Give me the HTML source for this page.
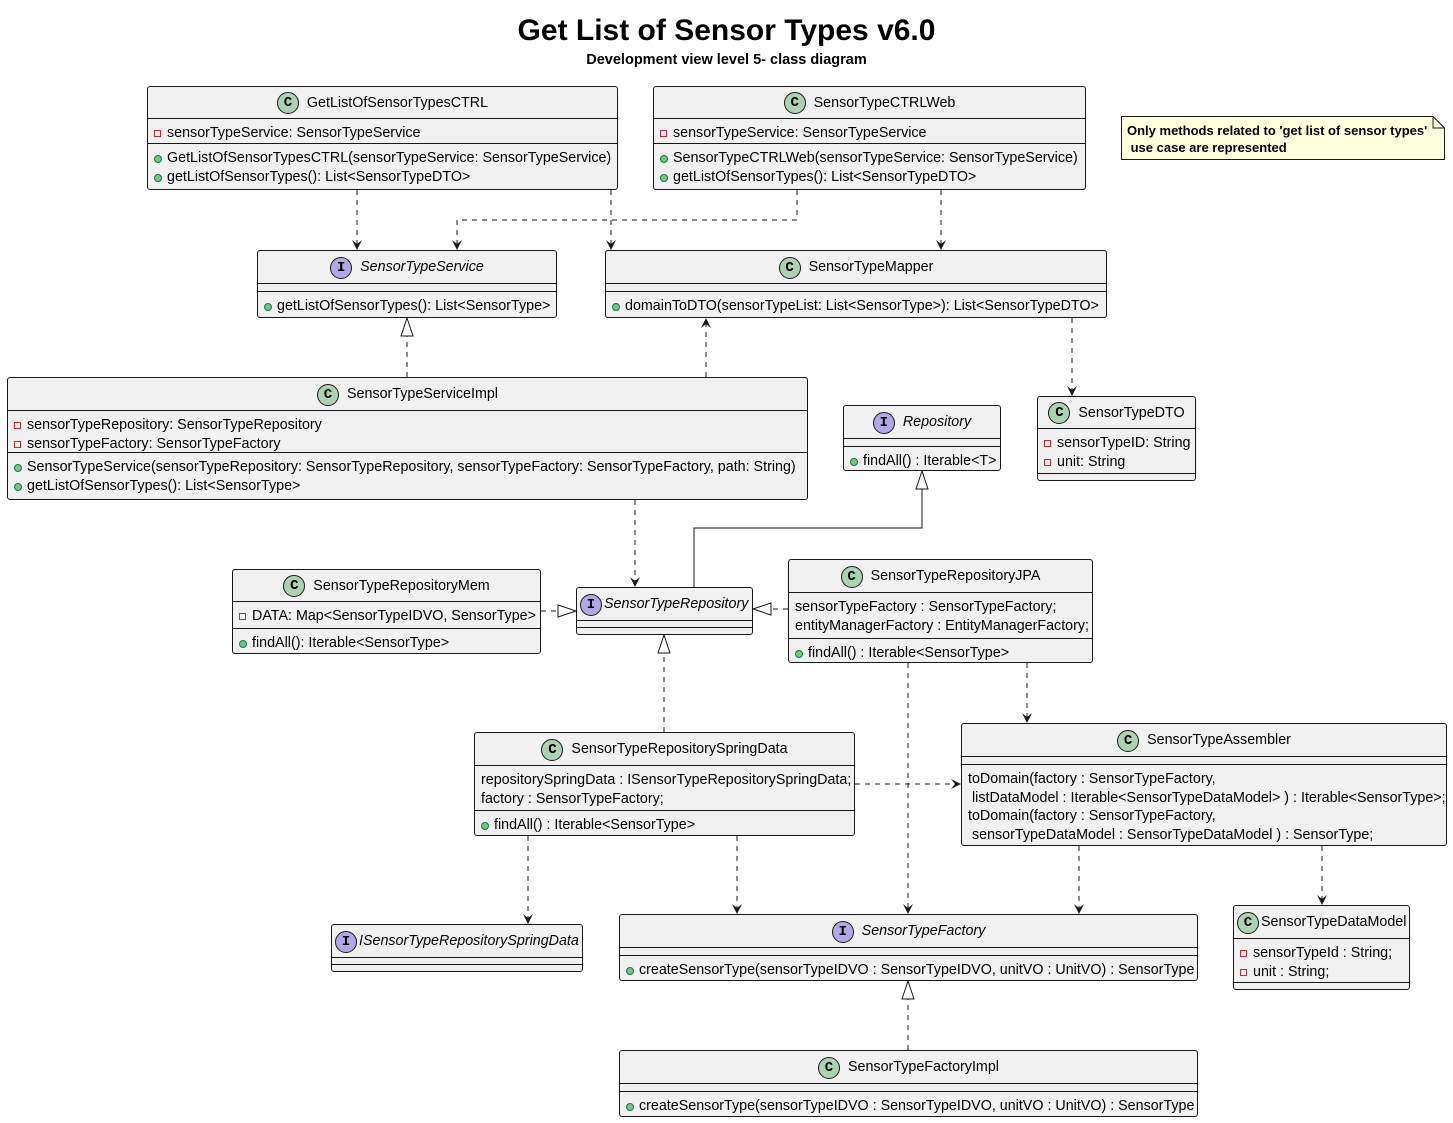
<!DOCTYPE html>
<html><head><meta charset="utf-8">
<style>
html,body{margin:0;padding:0;background:#fff;}
body{width:1453px;height:1123px;position:relative;overflow:hidden;font-family:"Liberation Sans",Arial,sans-serif;color:#000;}
.box{position:absolute;background:#F1F1F1;border:1px solid #181818;border-radius:3px;box-sizing:border-box;}
.hd{position:absolute;left:0;right:0;top:0;text-align:center;font-size:14.3px;white-space:nowrap;}
.hd .ic{display:inline-block;width:22px;height:22px;border-radius:50%;border:1px solid #181818;box-sizing:border-box;text-align:center;line-height:20px;font-weight:bold;font-size:14px;vertical-align:middle;margin-right:8px;font-family:"Liberation Mono",monospace;}
.hd span.n{vertical-align:middle;}
.sep{position:absolute;left:0;right:0;height:0;border-top:1px solid #181818;}
.ln{position:absolute;font-size:14.3px;white-space:pre;line-height:18px;}
.vp{position:absolute;width:7px;height:7px;border:1px solid #C82930;box-sizing:border-box;}
.vu{position:absolute;width:8px;height:8px;border-radius:50%;background:#84BE84;border:1px solid #038048;box-sizing:border-box;}
#title{position:absolute;left:0;width:1453px;top:14px;text-align:center;font-weight:bold;font-size:30px;}
#sub{position:absolute;left:0;width:1453px;top:52px;text-align:center;font-weight:bold;font-size:14.5px;}
#note{position:absolute;left:1121px;top:116px;width:324px;height:44px;}
#note .t{position:absolute;left:6px;top:6px;font-weight:bold;font-size:13px;line-height:17px;white-space:pre;}
svg{position:absolute;left:0;top:0;}
</style></head><body>
<div id="title">Get List of Sensor Types v6.0</div>
<div id="sub">Development view level 5- class diagram</div>
<div id="note"><svg width="326" height="46" style="position:absolute;left:0;top:0"><path d="M0.5 0.5 H312 L323.5 12 V43.5 H0.5 Z" fill="#FEFFDD" stroke="#181818"/><path d="M312 0.5 V12 H323.5" fill="none" stroke="#181818"/></svg><div class="t">Only methods related to 'get list of sensor types'
 use case are represented</div></div>
<svg id="edges" width="1453" height="1123"></svg>
<div id="boxes"></div>
<script>
var B=[
 ['GetListOfSensorTypesCTRL','C',147,86,471,[[118,[['-','sensorTypeService: SensorTypeService']]],[143,[['+','GetListOfSensorTypesCTRL(sensorTypeService: SensorTypeService)'],['+','getListOfSensorTypes(): List<SensorTypeDTO>']]]],190],
 ['SensorTypeCTRLWeb','C',653,86,433,[[118,[['-','sensorTypeService: SensorTypeService']]],[143,[['+','SensorTypeCTRLWeb(sensorTypeService: SensorTypeService)'],['+','getListOfSensorTypes(): List<SensorTypeDTO>']]]],190],
 ['SensorTypeService','I',257,250,300,[[283,[]],[291,[['+','getListOfSensorTypes(): List<SensorType>']]]],318],
 ['SensorTypeMapper','C',605,250,502,[[283,[]],[291,[['+','domainToDTO(sensorTypeList: List<SensorType>): List<SensorTypeDTO>']]]],318],
 ['SensorTypeServiceImpl','C',7,377,801,[[410,[['-','sensorTypeRepository: SensorTypeRepository'],['-','sensorTypeFactory: SensorTypeFactory']]],[452,[['+','SensorTypeService(sensorTypeRepository: SensorTypeRepository, sensorTypeFactory: SensorTypeFactory, path: String)'],['+','getListOfSensorTypes(): List<SensorType>']]]],500],
 ['Repository','I',843,405,158,[[438,[]],[446,[['+','findAll() : Iterable<T>']]]],471],
 ['SensorTypeDTO','C',1037,396,159,[[428,[['-','sensorTypeID: String'],['-','unit: String']]],[473,[]]],481],
 ['SensorTypeRepositoryMem','C',232,569,309,[[601,[['-','DATA: Map<SensorTypeIDVO, SensorType>']]],[628,[['+','findAll(): Iterable<SensorType>']]]],654],
 ['SensorTypeRepository','I',576,587,177,[[620,[]],[627,[]]],635,true],
 ['SensorTypeRepositoryJPA','C',788,559,305,[[592,[['','sensorTypeFactory : SensorTypeFactory;'],['','entityManagerFactory : EntityManagerFactory;']]],[638,[['+','findAll() : Iterable<SensorType>']]]],663],
 ['SensorTypeRepositorySpringData','C',474,732,381,[[765,[['','repositorySpringData : ISensorTypeRepositorySpringData;'],['','factory : SensorTypeFactory;']]],[810,[['+','findAll() : Iterable<SensorType>']]]],836],
 ['SensorTypeAssembler','C',961,723,486,[[756,[]],[764,[['','toDomain(factory : SensorTypeFactory,'],['',' listDataModel : Iterable<SensorTypeDataModel> ) : Iterable<SensorType>;'],['','toDomain(factory : SensorTypeFactory,'],['',' sensorTypeDataModel : SensorTypeDataModel ) : SensorType;']]]],846],
 ['ISensorTypeRepositorySpringData','I',331,924,252,[[957,[]],[964,[]]],972,true],
 ['SensorTypeFactory','I',619,914,579,[[947,[]],[955,[['+','createSensorType(sensorTypeIDVO : SensorTypeIDVO, unitVO : UnitVO) : SensorType']]]],981],
 ['SensorTypeDataModel','C',1233,905,177,[[938,[['-','sensorTypeId : String;'],['-','unit : String;']]],[982,[]]],990,true],
 ['SensorTypeFactoryImpl','C',619,1050,579,[[1083,[]],[1091,[['+','createSensorType(sensorTypeIDVO : SensorTypeIDVO, unitVO : UnitVO) : SensorType']]]],1117]
];
var h='';
function esc(s){return s.replace(/&/g,'&amp;').replace(/</g,'&lt;').replace(/>/g,'&gt;');}
B.forEach(function(b){
 var x=b[2],y=b[3],w=b[4],bot=b[6];
 var hh=b[5][0][0]-y;
 var isI=b[1]=='I';
 var st=isI?'font-style:italic;':'';
 var col=isI?'#B4A7E5':'#ADD1B2';
 var hdStyle='height:'+hh+'px;line-height:'+hh+'px;';
 if(b[7]) hdStyle+='text-align:left;padding-left:3px;';
 h+='<div class="box" style="left:'+x+'px;top:'+y+'px;width:'+w+'px;height:'+(bot-y)+'px">';
 h+='<div class="hd" style="'+hdStyle+'"><span class="ic" style="background:'+col+';margin-right:'+(b[7]?2:8)+'px">'+b[1]+'</span><span class="n" style="'+st+'">'+esc(b[0])+'</span></div>';
 b[5].forEach(function(s){
  var sy=s[0]-y;
  h+='<div class="sep" style="top:'+(sy-1)+'px"></div>';
  s[1].forEach(function(l,i){
   var ty=sy+5+i*18.5;
   var tx=6;
   if(l[0]=='-'){h+='<div class="vp" style="left:6px;top:'+(ty+6)+'px"></div>';tx=19;}
   if(l[0]=='+'){h+='<div class="vu" style="left:6px;top:'+(ty+6)+'px"></div>';tx=19;}
   h+='<div class="ln" style="left:'+tx+'px;top:'+ty+'px">'+esc(l[1])+'</div>';
  });
 });
 h+='</div>';
});
document.getElementById('boxes').innerHTML=h;
var s='';
function line(pts,dash){s+='<polyline points="'+pts.map(function(p){return p.join(',')}).join(' ')+'" fill="none" stroke="#181818" stroke-width="1"'+(dash?' stroke-dasharray="5,5"':'')+'/>';}
function arrow(x,y,dir){
 var p;
 if(dir=='d')p=[[x,y],[x-5,y-10],[x,y-6],[x+5,y-10]];
 if(dir=='u')p=[[x,y],[x-5,y+10],[x,y+6],[x+5,y+10]];
 if(dir=='r')p=[[x,y],[x-10,y-5],[x-6,y],[x-10,y+5]];
 if(dir=='l')p=[[x,y],[x+10,y-5],[x+6,y],[x+10,y+5]];
 s+='<polygon points="'+p.map(function(q){return q.join(',')}).join(' ')+'" fill="#181818"/>';
}
function tri(x,y,dir){
 var p;
 if(dir=='u')p=[[x,y],[x-6,y+18],[x+6,y+18]];
 if(dir=='r')p=[[x,y],[x-18,y-6],[x-18,y+6]];
 if(dir=='l')p=[[x,y],[x+18,y-6],[x+18,y+6]];
 s+='<polygon points="'+p.map(function(q){return q.join(',')}).join(' ')+'" fill="#fff" stroke="#181818"/>';
}
line([[357,190],[357,249]],1);arrow(357,250,'d');
line([[611,190],[611,249]],1);arrow(611,250,'d');
line([[797,190],[797,220],[457,220],[457,249]],1);arrow(457,250,'d');
line([[941,190],[941,249]],1);arrow(941,250,'d');
line([[407,377],[407,336]],1);tri(407,318,'u');
line([[706,377],[706,319]],1);arrow(706,318,'u');
line([[1072,318],[1072,395]],1);arrow(1072,396,'d');
line([[635,500],[635,586]],1);arrow(635,587,'d');
line([[694,587],[694,528],[922,528],[922,489]],0);tri(922,471,'u');
line([[541,611],[558,611]],1);tri(576,611,'r');
line([[788,609],[771,609]],1);tri(753,609,'l');
line([[664,732],[664,653]],1);tri(664,635,'u');
line([[908,663],[908,913]],1);arrow(908,914,'d');
line([[1027,663],[1027,722]],1);arrow(1027,723,'d');
line([[855,784],[960,784]],1);arrow(961,784,'r');
line([[528,836],[528,923]],1);arrow(528,924,'d');
line([[737,836],[737,913]],1);arrow(737,914,'d');
line([[1079,846],[1079,913]],1);arrow(1079,914,'d');
line([[1322,846],[1322,904]],1);arrow(1322,905,'d');
line([[908,1050],[908,999]],1);tri(908,981,'u');
document.getElementById('edges').innerHTML=s;
</script>
</body></html>
